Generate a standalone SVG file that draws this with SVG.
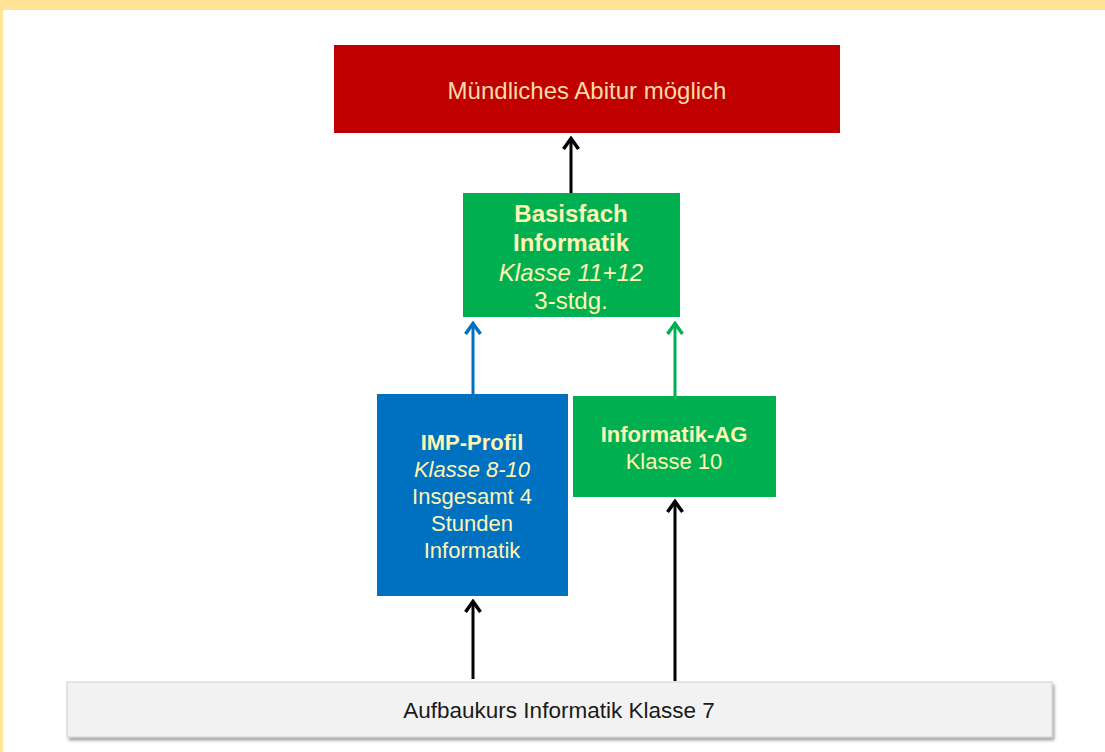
<svg xmlns="http://www.w3.org/2000/svg" width="1105" height="752" viewBox="0 0 1105 752">
<defs>
<style>
text{font-family:"Liberation Sans",Arial,sans-serif;text-anchor:middle;}
.lt{fill:#FFF6B4;}
.big{font-size:24px;}
.mid{font-size:22px;}
.b{font-weight:bold;}
.i{font-style:italic;}
.ln{fill:none;stroke-width:3;}
</style>
<marker id="ak" viewBox="0 0 18 16" refX="9" refY="2" markerWidth="18" markerHeight="16" markerUnits="userSpaceOnUse">
<path d="M1.5 13 L9 2.5 L16.5 13" fill="none" stroke="#000" stroke-width="3.5"/>
</marker>
<marker id="ab" viewBox="0 0 18 16" refX="9" refY="2" markerWidth="18" markerHeight="16" markerUnits="userSpaceOnUse">
<path d="M1.5 13 L9 2.5 L16.5 13" fill="none" stroke="#0070C0" stroke-width="3.5"/>
</marker>
<marker id="ag" viewBox="0 0 18 16" refX="9" refY="2" markerWidth="18" markerHeight="16" markerUnits="userSpaceOnUse">
<path d="M1.5 13 L9 2.5 L16.5 13" fill="none" stroke="#00B050" stroke-width="3.5"/>
</marker>
<filter id="sh" x="-5%" y="-20%" width="110%" height="150%">
<feDropShadow dx="2" dy="3" stdDeviation="1.5" flood-color="#000" flood-opacity="0.35"/>
</filter>
</defs>
<rect x="0" y="0" width="1105" height="752" fill="#fff"/>
<rect x="0" y="0" width="1105" height="10" fill="#FFE498"/>
<rect x="0" y="0" width="3" height="752" fill="#FFE498"/>

<g id="connectors">
<line class="ln" x1="571" y1="193" x2="571" y2="138" stroke="#000" marker-end="url(#ak)"/>
<line class="ln" x1="473" y1="394" x2="473" y2="323" stroke="#0070C0" marker-end="url(#ab)"/>
<line class="ln" x1="675" y1="396" x2="675" y2="323" stroke="#00B050" marker-end="url(#ag)"/>
<line class="ln" x1="473" y1="679" x2="473" y2="601" stroke="#000" marker-end="url(#ak)"/>
<line class="ln" x1="675" y1="681" x2="675" y2="501" stroke="#000" marker-end="url(#ak)"/>
</g>

<g id="abitur">
<rect x="334" y="45" width="506" height="88" fill="#C00000"/>
<text class="big" x="587" y="99" fill="#F9DDA6">Mündliches Abitur möglich</text>
</g>

<g id="basisfach">
<rect x="463" y="193" width="217" height="124" fill="#00B050"/>
<text class="lt big b" x="571" y="222">Basisfach</text>
<text class="lt big b" x="571" y="251">Informatik</text>
<text class="lt big i" x="571" y="281">Klasse 11+12</text>
<text class="lt big" x="571" y="309">3-stdg.</text>
</g>

<g id="imp">
<rect x="377" y="394" width="191" height="202" fill="#0070C0"/>
<text class="lt mid b" x="472" y="450">IMP-Profil</text>
<text class="lt mid i" x="472" y="477">Klasse 8-10</text>
<text class="lt mid" x="472" y="504">Insgesamt 4</text>
<text class="lt mid" x="472" y="531">Stunden</text>
<text class="lt mid" x="472" y="558">Informatik</text>
</g>

<g id="ag">
<rect x="573" y="396" width="203" height="101" fill="#00B050"/>
<text class="lt mid b" x="674" y="442">Informatik-AG</text>
<text class="lt mid" x="674" y="469">Klasse 10</text>
</g>

<g id="aufbau">
<rect x="67" y="682" width="985" height="55" fill="#F2F2F2" stroke="#D0D0D0" stroke-width="1" filter="url(#sh)"/>
<text x="559" y="718" font-size="22.5" fill="#1a1a1a">Aufbaukurs Informatik Klasse 7</text>
</g>
</svg>
